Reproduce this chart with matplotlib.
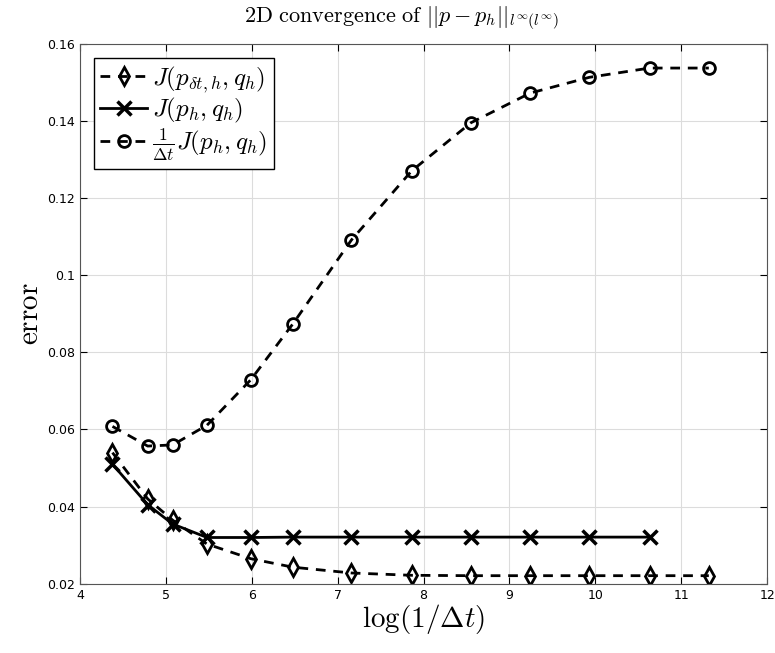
import matplotlib.pyplot as plt
import numpy as np

plt.rcParams['mathtext.fontset'] = 'cm'

x_all = [4.38, 4.79, 5.08, 5.48, 5.99, 6.48, 7.16, 7.86, 8.55, 9.24, 9.93, 10.63, 11.32]
x_cross = x_all[:-1]

err_dt = [0.054, 0.042, 0.0365, 0.0303, 0.0265, 0.0243, 0.0228, 0.0222, 0.0221, 0.0221, 0.0221, 0.0221, 0.0221]
err_h = [0.051, 0.0405, 0.0355, 0.032, 0.032, 0.0321, 0.0321, 0.0321, 0.0321, 0.0321, 0.0321, 0.0321]
err_scaled = [0.0608, 0.0557, 0.056, 0.0611, 0.0729, 0.0874, 0.1091, 0.127, 0.1395, 0.1472, 0.1513, 0.1537, 0.1537]

fig = plt.figure(figsize=(7.75, 6.53), dpi=100)
ax = fig.add_axes([0.103, 0.106, 0.887, 0.827])

dash = (0, (3.5, 2.8))
ax.plot(x_all, err_dt, color='k', lw=2, linestyle=dash, marker='d', markersize=9,
        markerfacecolor='none', markeredgewidth=2, label=r'$J(p_{\delta t,h},q_h)$')
ax.plot(x_cross, err_h, color='k', lw=2, linestyle='-', marker='x', markersize=10,
        markeredgewidth=2.5, label=r'$J(p_h,q_h)$')
ax.plot(x_all, err_scaled, color='k', lw=2, linestyle=dash, marker='o', markersize=8.5,
        markerfacecolor='none', markeredgewidth=2, label=r'$\frac{1}{\Delta t}J(p_h,q_h)$')

ax.set_xlim(4, 12)
ax.set_ylim(0.02, 0.16)
ax.set_xticks(np.arange(4, 13, 1))
ax.set_yticks(np.arange(0.02, 0.161, 0.02))
ax.set_yticklabels(['0.02', '0.04', '0.06', '0.08', '0.1', '0.12', '0.14', '0.16'])
ax.tick_params(direction='in', top=True, right=True, labelsize=9, length=5)
ax.grid(True, color='#dcdcdc', lw=0.8)
for s in ax.spines.values():
    s.set_color('#555555')

fig.text(0.315, 0.972, r'$\mathrm{2D\ convergence\ of\ }||p-p_h||_{l^\infty(l^\infty)}$',
         fontsize=16, ha='left', va='center')
ax.set_xlabel(r'$\log(1/\Delta t)$', fontsize=21, labelpad=0)
ax.set_ylabel(r'$\mathrm{error}$', fontsize=21, labelpad=2)

leg = ax.legend(loc='upper left', fontsize=18, fancybox=False, framealpha=1,
                edgecolor='k', handlelength=1.9, handletextpad=0.2,
                borderaxespad=0.55, borderpad=0.25, labelspacing=0.05)
leg.get_frame().set_linewidth(1)

fig.savefig('out.png', dpi=100)
